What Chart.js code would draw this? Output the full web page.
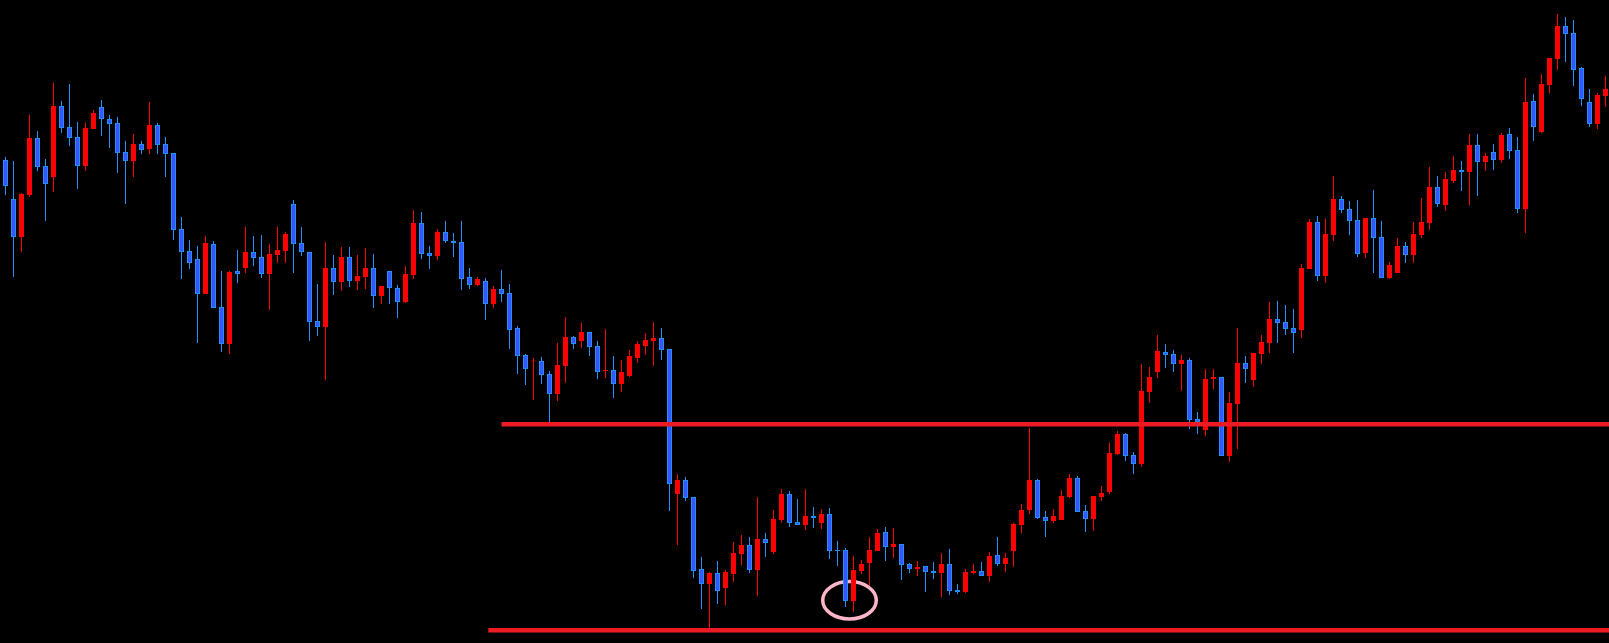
<!DOCTYPE html>
<html>
<head>
<meta charset="utf-8">
<script src="https://cdn.jsdelivr.net/npm/chart.js@4"></script>
<style>
  html, body { margin: 0; padding: 0; background: #000; }
  #wrap { width: 1609px; height: 643px; position: relative; }
</style>
</head>
<body>
<div id="wrap"><canvas id="candles"></canvas></div>
<script>
// OHLC, one entry per candle (left to right)
const opens = [483,444,406,448,505,477,466,537,516,506,477,514,536,524,520,491,482,499,494,518,
  499,490,414,392,384,349,399,336,299,372,375,391,386,369,388,392,439,400,391,322,
  316,375,361,386,362,366,375,347,372,355,341,368,420,390,387,411,402,401,366,358,
  362,339,354,350,315,288,281.5,282,269,249,277,306,302,311,297,272,273,259,267,285,
  297,302,305,294,149,163,146,74,59,70,55,69,89,98,73,104,91,123,149,121,
  118,127,120,129,93,93,42,72,80,92,111,96,99,79,74,77,72,70,79,53,
  51,70,72,67,88,79,92,118,133,163,126,122,123,146,165,132,124,146,151,189,
  209,188,179,251,271,291,289,279,283,224,213,264,266,187,239,280,263,289,300,324,
  321,315,313,374,421,367,408,444,434,423,390,425,406,365,370,397,388,408,420,456,
  438,462,473,471,498,481,491,483,509,493,434,542,511,558,584,617,610,575,541,519,547];
const highs = [486,482,450,528,512,484,560,542,559,521,520,533,543,528,526,502,509,502,541,520,
  506,490,426,403,397,407,402,372,372,393,416,407,408,399,416,411,443,416,391,359,
  401,388,396,396,388,395,389,357,372,358,377,433,431,397,414,422,410,422,375,366,
  365,357,373,359,317,289,285,286,272,300,326,307,320,311,302,314,287,283,293,302,
  310,321,315,294,169,166,146,86,71,82,73,101,108,106,146,110,133,154,152,144,
  154,136,134,135,102,95,87,83,106,114,116,115,99,80,82,77,81,90,94,59,
  74,79,81,91,106,90,120,139,215,164,132,134,153,169,167,138,147,157,200,212,
  210,191,279,276,308,299,293,288,285,231,274,274,266,251,315,287,290,308,341,342,
  338,334,379,424,427,424,467,447,442,443,425,453,422,381,405,401,421,445,476,467,
  471,487,482,509,509,490,499,510,515,506,565,549,569,585,629,626,623,576,554,550,567];
const lows = [448,366,391,446,472,422,451,510,497,454,472,514,507,495,470,439,466,489,489,489,
  466,403,364,374,300,349,335,291,289,360,370,377,365,333,380,380,370,387,302,307,
  263,348,352,356,353,354,335,339,339,325,340,364,384,374,383,400,386,353,354,357,
  323,335,341,294,269,258,243,259,221,242,260,294,295,287,264,265,245,251,266,280,
  288,277,283,132,98,142,65,34,15,39,38,61,78,70,47,86,89,120,116,118,
  113,115,114,84,77,36,31,69,57,92,82,85,63,70,67,51,64,46,48,49,
  50,69,67,61,77,71,76,110,129,124,106,120,123,145,131,111,112,142,149,188,
  182,169,176,240,265,275,271,252,214,209,207,254,187,181,194,260,256,279,290,300,
  308,290,305,374,362,360,402,430,408,386,385,370,365,364,370,380,380,405,413,436,
  432,460,452,438,447,472,473,480,484,430,410,502,510,550,573,581,557,537,516,514,536];
const closes = [457,406,449,505,476,459,537,515,505,477,515,530,524,519,490,482,499,493,518,498,
  489,413,391,380,349,400,335,299,371,369,391,385,369,389,393,409,399,391,321,316,
  375,361,386,362,367,375,347,357,355,341,369,420,389,387,411,402,400,364,358,364,
  339,354,349,313,287,274,282.5,268,249,278,306,299,311,296,271,273,259,271,287,299,
  303,305,293,159,163,145,72,59,70,52,71,90,98,73,104,100,124,149,120,118,
  127,125,129,92,92,42,73,79,93,110,96,99,78,74,76,71,70,79,52,51,
  71,72,67,87,79,85,119,133,163,125,122,127,147,165,131,124,147,150,190,209,
  187,179,252,266,292,288,279,283,223,221,264,266,187,240,280,274,290,301,324,320,
  314,310,375,421,367,409,444,433,422,389,425,405,365,378,397,388,409,421,456,439,
  464,473,471,498,481,487,483,508,492,434,541,516,559,585,617,609,573,544,519,548,554];

// support / resistance levels and the marked low
const resistanceLevel = 218.7;
const supportLevel = 12.7;
const resistanceFrom = 62.0;
const supportFrom = 60.35;
const markedCandle = 105.5;
const markedPrice = 42.7;

const RED = '#ff0000';
const BLUE_FILL = '#3a55ff';
const BLUE_EDGE = '#1e90ff';
const LEVEL_RED = '#ed1c24';

const idx = opens.map((_, i) => i);
const isUp = i => closes[i] > opens[i];

const wickData = idx.map(i => ({ x: i, y: [lows[i], highs[i]] }));
const bodyData = idx.map(i => ({ x: i, y: [opens[i], closes[i]] }));

// pink ring around the low, drawn beneath the candles
const ringPlugin = {
    id: 'ring',
    beforeDatasetsDraw(chart) {
        const { ctx, scales } = chart;
        const cx = scales.x.getPixelForValue(markedCandle);
        const cy = scales.y.getPixelForValue(markedPrice);
        const rx = scales.x.getPixelForValue(markedCandle + 3.35) - cx;
        const ry = cy - scales.y.getPixelForValue(markedPrice + 18.7);
        ctx.save();
        ctx.strokeStyle = '#ffb6c8';
        ctx.lineWidth = 3.5;
        ctx.beginPath();
        ctx.ellipse(cx, cy, rx, ry, 0, 0, Math.PI * 2);
        ctx.stroke();
        ctx.restore();
    }
};

new Chart(document.getElementById('candles'), {
    type: 'bar',
    data: {
        datasets: [
            {
                type: 'line',
                order: 0,
                data: [{ x: resistanceFrom, y: resistanceLevel }, { x: 202, y: resistanceLevel }],
                borderColor: LEVEL_RED,
                borderWidth: 4.6,
                pointRadius: 0
            },
            {
                type: 'line',
                order: 0,
                data: [{ x: supportFrom, y: supportLevel }, { x: 202, y: supportLevel }],
                borderColor: LEVEL_RED,
                borderWidth: 4.6,
                pointRadius: 0
            },
            {
                // bodies
                order: 1,
                data: bodyData,
                grouped: false,
                barThickness: 5,
                inflateAmount: 0,
                borderSkipped: false,
                borderWidth: 1,
                backgroundColor: c => isUp(c.dataIndex) ? RED : BLUE_FILL,
                borderColor: c => isUp(c.dataIndex) ? RED : BLUE_EDGE
            },
            {
                // wicks
                order: 2,
                data: wickData,
                grouped: false,
                barThickness: 1,
                inflateAmount: 0,
                borderWidth: 0,
                backgroundColor: c => isUp(c.dataIndex) ? RED : BLUE_EDGE
            }
        ]
    },
    options: {
        responsive: true,
        maintainAspectRatio: false,
        animation: false,
        layout: { padding: 0 },
        plugins: {
            legend: { display: false },
            tooltip: { enabled: false }
        },
        scales: {
            x: {
                type: 'linear',
                display: false,
                min: -0.6875,
                max: 200.4375,
                offset: false
            },
            y: {
                display: false,
                min: 0,
                max: 643
            }
        }
    },
    plugins: [ringPlugin]
});
</script>
</body>
</html>
